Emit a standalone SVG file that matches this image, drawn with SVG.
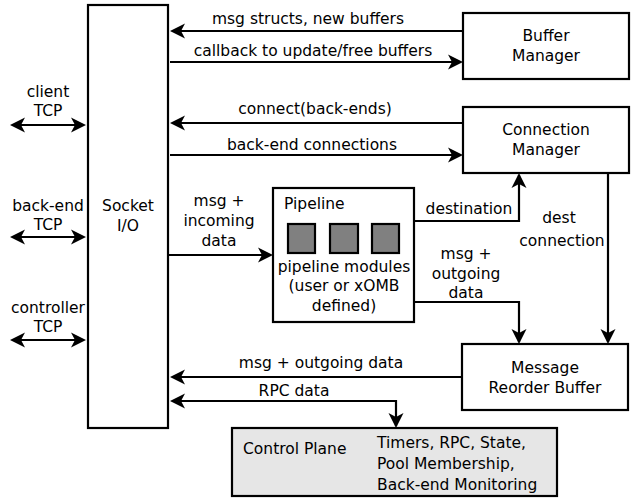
<svg xmlns="http://www.w3.org/2000/svg" width="633" height="498" viewBox="0 0 633 498">
  <style>
    text { font-family: "DejaVu Sans", "Liberation Sans", sans-serif; font-size: 15.5px; fill: #000; }
    .c { text-anchor: middle; }
    .box { fill: #fff; stroke: #000; stroke-width: 2.2; }
    .mod { fill: #808080; stroke: #000; stroke-width: 2.2; }
    .ctl { fill: #e6e6e6; stroke: #000; stroke-width: 2.2; }
    .wire { fill: none; stroke: #000; stroke-width: 2.2; }
  </style>
  <defs>
    <marker id="ah" viewBox="-14 -8 18 16" markerWidth="18" markerHeight="16" refX="0" refY="0" orient="auto-start-reverse" markerUnits="userSpaceOnUse">
      <path d="M2,0 L-13,-7.5 L-9,0 L-13,7.5 z" fill="#000"/>
    </marker>
  </defs>

  <!-- connectors -->
  <g id="connectors">
    <path class="wire" d="M463,31 H172" marker-end="url(#ah)"/>
    <text x="308" y="24" class="c">msg structs, new buffers</text>
    <path class="wire" d="M170,62 H461" marker-end="url(#ah)"/>
    <text x="313" y="56" class="c">callback to update/free buffers</text>
    <path class="wire" d="M463,123 H172" marker-end="url(#ah)"/>
    <text x="315" y="114" class="c">connect(back-ends)</text>
    <path class="wire" d="M170,155 H461" marker-end="url(#ah)"/>
    <text x="312" y="150" class="c">back-end connections</text>

    <path class="wire" d="M12,125 H84" marker-start="url(#ah)" marker-end="url(#ah)"/>
    <text x="48" y="97" class="c">client</text>
    <text x="48" y="116" class="c">TCP</text>
    <path class="wire" d="M12,237 H84" marker-start="url(#ah)" marker-end="url(#ah)"/>
    <text x="48" y="211" class="c">back-end</text>
    <text x="48" y="230" class="c">TCP</text>
    <path class="wire" d="M12,340 H84" marker-start="url(#ah)" marker-end="url(#ah)"/>
    <text x="48" y="313" class="c">controller</text>
    <text x="48" y="332" class="c">TCP</text>

    <path class="wire" d="M168,255 H271" marker-end="url(#ah)"/>
    <text x="219" y="206" class="c">msg +</text>
    <text x="219" y="226" class="c">incoming</text>
    <text x="219" y="246" class="c">data</text>

    <path class="wire" d="M414,221 H519 V175" marker-end="url(#ah)"/>
    <text x="469" y="214" class="c">destination</text>

    <path class="wire" d="M608,173 V342" marker-end="url(#ah)"/>
    <text x="559" y="223" class="c">dest</text>
    <text x="562" y="246" class="c">connection</text>

    <path class="wire" d="M414,302 H519 V342" marker-end="url(#ah)"/>
    <text x="466" y="259" class="c">msg +</text>
    <text x="466" y="279" class="c">outgoing</text>
    <text x="466" y="298" class="c">data</text>

    <path class="wire" d="M462,377 H172" marker-end="url(#ah)"/>
    <text x="321" y="368" class="c">msg + outgoing data</text>

    <path class="wire" d="M172,401 H396 V426" marker-start="url(#ah)" marker-end="url(#ah)"/>
    <text x="294" y="396" class="c">RPC data</text>
  </g>

  <g id="socket-io">
    <rect class="box" x="88" y="5" width="80" height="423"/>
    <text x="128" y="211" class="c">Socket</text>
    <text x="128" y="231" class="c">I/O</text>
  </g>

  <g id="buffer-manager">
    <rect class="box" x="463" y="13" width="166" height="66"/>
    <text x="546" y="41" class="c">Buffer</text>
    <text x="546" y="61" class="c">Manager</text>
  </g>

  <g id="connection-manager">
    <rect class="box" x="463" y="107" width="166" height="66"/>
    <text x="546" y="135" class="c">Connection</text>
    <text x="546" y="155" class="c">Manager</text>
  </g>

  <g id="pipeline">
    <rect class="box" x="273" y="188" width="141" height="134"/>
    <text x="284" y="209">Pipeline</text>
    <rect class="mod" x="288" y="224" width="27" height="29"/>
    <rect class="mod" x="330" y="224" width="28" height="29"/>
    <rect class="mod" x="372" y="224" width="27" height="29"/>
    <text x="344" y="272" class="c">pipeline modules</text>
    <text x="344" y="291" class="c">(user or xOMB</text>
    <text x="344" y="311" class="c">defined)</text>
  </g>

  <g id="message-reorder-buffer">
    <rect class="box" x="462" y="344" width="166" height="66"/>
    <text x="545" y="373" class="c">Message</text>
    <text x="545" y="393" class="c">Reorder Buffer</text>
  </g>

  <g id="control-plane">
    <rect class="ctl" x="232" y="428" width="325" height="68"/>
    <text x="243" y="454">Control Plane</text>
    <text x="377" y="448">Timers, RPC, State,</text>
    <text x="377" y="469">Pool Membership,</text>
    <text x="377" y="490">Back-end Monitoring</text>
  </g>
</svg>
